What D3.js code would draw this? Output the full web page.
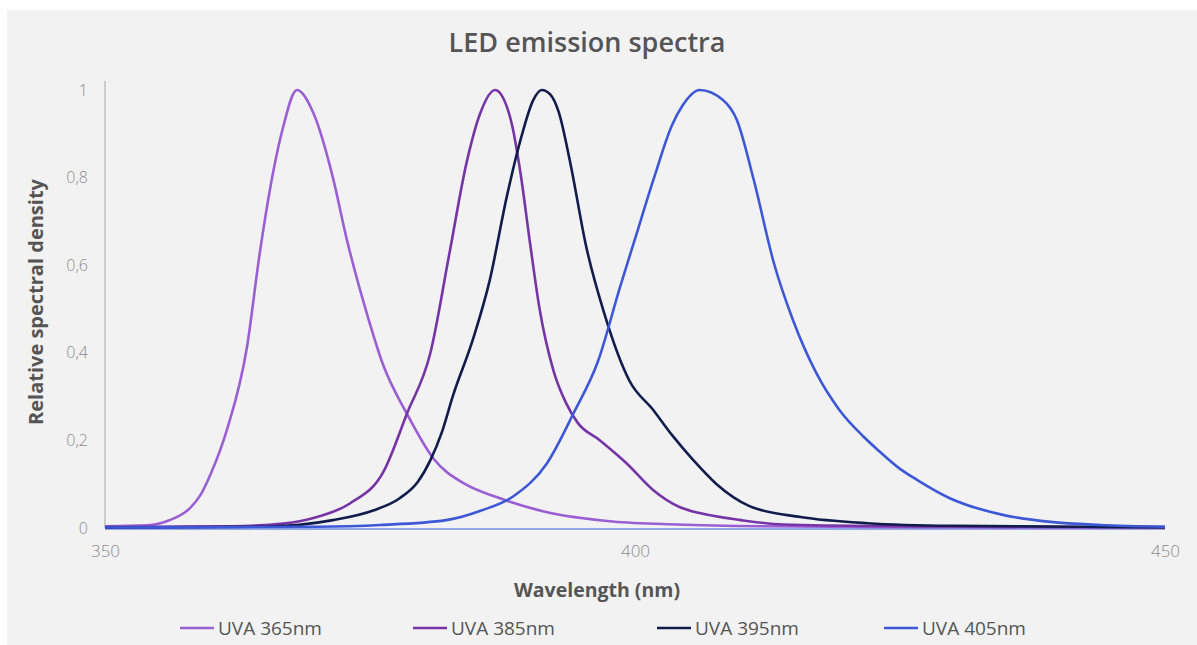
<!DOCTYPE html>
<html>
<head>
<meta charset="utf-8">
<script src="https://cdn.jsdelivr.net/npm/d3@7"></script>
<style>
  body { margin: 0; background: #fff; }
  svg text { font-family: "Open Sans", Lato, sans-serif; }
</style>
</head>
<body>
<div id="root"></div>
<script>
// series: wavelength (nm) and relative density
var seriesNames = ["UVA 365nm", "UVA 385nm", "UVA 395nm", "UVA 405nm"]
var seriesColors = ["#9b5fd4", "#7634a6", "#101c4c", "#3d58d6"]

var wl365 = [350, 354, 356, 358, 359, 360, 361.5, 363.4, 364.6, 365.9, 366.8, 368.1, 369.7, 371.5, 372.8, 374.7, 376.2, 378.5, 381, 384, 387, 391.7, 397.9, 404, 412, 425, 450]
var val365 = [0.004, 0.006, 0.017, 0.045, 0.075, 0.125, 0.224, 0.414, 0.628, 0.817, 0.915, 1.0, 0.945, 0.8, 0.66, 0.49, 0.375, 0.26, 0.158, 0.1, 0.07, 0.036, 0.015, 0.008, 0.004, 0.002, 0.001]

var wl385 = [350, 362, 366.8, 370, 373.1, 376.3, 378.5, 380.7, 382.5, 384.1, 385.4, 386.8, 387.6, 388.4, 389.2, 390.1, 391, 392.3, 393.5, 394.6, 396.7, 399.2, 401.7, 404.2, 406.1, 410, 414, 425, 450]
var val385 = [0.002, 0.004, 0.01, 0.025, 0.056, 0.13, 0.262, 0.4, 0.628, 0.833, 0.947, 1.0, 0.98, 0.92, 0.81, 0.65, 0.5, 0.36, 0.285, 0.24, 0.2, 0.148, 0.087, 0.048, 0.034, 0.018, 0.008, 0.004, 0.001]

var wl395 = [350, 365, 371.5, 375.3, 377.8, 379.5, 380.7, 381.8, 382.8, 384.7, 386.3, 387.9, 389.2, 390.4, 391.2, 392, 392.8, 393.9, 395.4, 397.1, 399.5, 401.7, 403.5, 405.5, 407.7, 410.8, 415.6, 421.9, 430, 450]
var val395 = [0.001, 0.003, 0.018, 0.04, 0.068, 0.105, 0.155, 0.22, 0.3, 0.43, 0.566, 0.756, 0.886, 0.977, 1.0, 0.99, 0.95, 0.833, 0.642, 0.49, 0.335, 0.27, 0.212, 0.155, 0.1, 0.05, 0.025, 0.011, 0.005, 0.002]

var wl405 = [350, 370, 376, 382.2, 385.5, 388.5, 391.7, 394.2, 396.5, 398.6, 400, 401.8, 403.5, 404.5, 406.1, 408.3, 409.6, 411.2, 413.1, 414.9, 417.1, 419.3, 421.5, 423.1, 425, 426.6, 429.7, 434.7, 439.2, 443.9, 450]
var val405 = [0.001, 0.003, 0.007, 0.018, 0.04, 0.072, 0.148, 0.262, 0.38, 0.551, 0.66, 0.8, 0.92, 0.965, 1.0, 0.977, 0.932, 0.795, 0.605, 0.475, 0.354, 0.269, 0.21, 0.174, 0.135, 0.11, 0.068, 0.03, 0.014, 0.007, 0.003]

var xTicks = [350, 400, 450]
var yTicks = [0, 0.2, 0.4, 0.6, 0.8, 1]

var wls = [wl365, wl385, wl395, wl405]
var vals = [val365, val385, val395, val405]

var W = 1197, H = 645
var margin = {top: 90, right: 32, bottom: 117, left: 105}
var width = W - margin.left - margin.right
var height = H - margin.top - margin.bottom

var svg = d3.select("#root").append("svg")
    .attr("width", W)
    .attr("height", H)

// gray panel
svg.append("rect")
    .attr("x", 7).attr("y", 10)
    .attr("width", W - 7).attr("height", H - 10)
    .attr("fill", "#f2f2f2")

var g = svg.append("g")
    .attr("transform", "translate(" + margin.left + "," + margin.top + ")")

var x = d3.scaleLinear().domain([350, 450]).range([0, width])
var y = d3.scaleLinear().domain([0, 1]).range([height, 0])

// y axis
var yAxis = g.append("g")
    .call(d3.axisLeft(y).tickValues(yTicks).tickSize(0).tickPadding(17)
      .tickFormat(function(d){ return String(d).replace(".", ",") }))
yAxis.select(".domain").remove()
yAxis.selectAll("text").attr("fill", "#8c8c8c").style("font-size", "16px").style("font-weight", 300)
g.append("line")
    .attr("x1", 0).attr("x2", 0)
    .attr("y1", y(1) - 9).attr("y2", y(0))
    .attr("stroke", "#a6a6a6")

// x axis
var xAxis = g.append("g")
    .attr("transform", "translate(0," + height + ")")
    .call(d3.axisBottom(x).tickValues(xTicks).tickSize(0).tickPadding(17))
xAxis.select(".domain").remove()
xAxis.selectAll("text").attr("fill", "#8c8c8c").style("font-size", "17px").style("font-weight", 300)
g.append("line")
    .attr("x1", 0).attr("x2", width)
    .attr("y1", height + 1).attr("y2", height + 1)
    .attr("stroke", "#6f8fe0").attr("stroke-width", 1.5)

// curves
var line = d3.line()
    .x(function(d){ return x(d[0]) })
    .y(function(d){ return y(d[1]) })
    .curve(d3.curveMonotoneX)

seriesNames.forEach(function(name, i){
  var pts = wls[i].map(function(w, j){ return [w, vals[i][j]] })
  g.append("path")
      .datum(pts)
      .attr("d", line)
      .attr("fill", "none")
      .attr("stroke", seriesColors[i])
      .attr("stroke-width", 2.6)
      .attr("stroke-linejoin", "round")
})

// titles
svg.append("text")
    .attr("x", 587).attr("y", 52)
    .attr("text-anchor", "middle")
    .attr("fill", "#555")
    .style("font-size", "27px").style("font-weight", 600)
    .text("LED emission spectra")

svg.append("text")
    .attr("x", 597).attr("y", 597)
    .attr("text-anchor", "middle")
    .attr("fill", "#555")
    .style("font-size", "19.5px").style("font-weight", 700)
    .text("Wavelength (nm)")

svg.append("text")
    .attr("transform", "translate(43,302) rotate(-90)")
    .attr("text-anchor", "middle")
    .attr("fill", "#555")
    .style("font-size", "20px").style("font-weight", 700)
    .text("Relative spectral density")

// legend
var legendX = [180, 413, 657, 884]
var legend = svg.selectAll(".leg")
    .data(seriesNames)
    .enter().append("g")
    .attr("transform", function(d, i){ return "translate(" + legendX[i] + ",628)" })
legend.append("line")
    .attr("x1", 0).attr("x2", 34)
    .attr("stroke", function(d, i){ return seriesColors[i] })
    .attr("stroke-width", 2.6)
legend.append("text")
    .attr("x", 38).attr("y", 6.5)
    .attr("fill", "#555")
    .style("font-size", "19px").style("font-weight", 500)
    .text(function(d){ return d })
</script>
</body>
</html>
